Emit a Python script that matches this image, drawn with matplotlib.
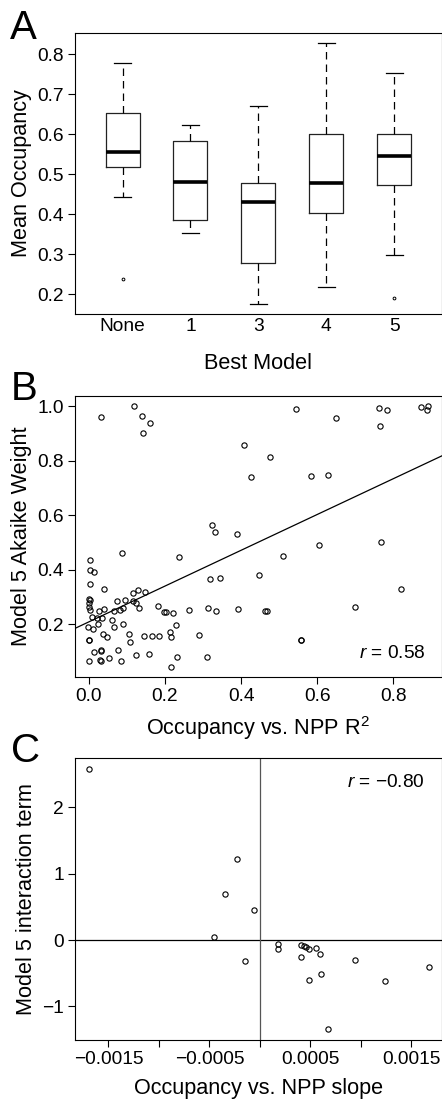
import matplotlib
matplotlib.use("Agg")

import numpy as np
import matplotlib.pyplot as plt

# --- Panel A: boxplot summary of mean occupancy per best model ---
box_labels = ["None", "1", "3", "4", "5"]
box_whislo = [0.443, 0.354, 0.177, 0.218, 0.2975]
box_q1 = [0.519, 0.386, 0.279, 0.4025, 0.4725]
box_med = [0.556, 0.482, 0.430, 0.478, 0.545]
box_q3 = [0.6525, 0.583, 0.478, 0.600, 0.600]
box_whishi = [0.779, 0.6225, 0.670, 0.828, 0.752]
box_fliers = [[0.238], [], [], [], [0.191]]

# --- Panel B: Akaike weight vs R^2 ---
r2_x = [0.031, 0.120, 0.140, 0.161, 0.142, 0.544, 0.650, 0.763, 0.783, 0.764,
        0.872, 0.892, 0.888, 0.409, 0.477, 0.427, 0.585, 0.629, 0.325, 0.332,
        0.390, 0.606, 0.768, 0.509, 0.238, 0.088, 0.446, 0.319, 0.345, 0.821,
        0.699, 0.392, 0.313, 0.333, 0.264, 0.463, 0.468, 0.290, 0.311, 0.557,
        0.557,
        0.003, 0.004, 0.015, 0.003, 0.041, 0.001, 0.004, 0.002, 0.002, 0.004,
        0.027, 0.039, 0.073, 0.096, 0.116, 0.130, 0.149, 0.116, 0.124, 0.133,
        0.067, 0.081, 0.089, 0.182, 0.199, 0.203, 0.221, 0.009, 0.022, 0.035,
        0.024, 0.062, 0.091, -0.001, 0.010, 0.067, 0.229, 0.037, 0.048, 0.106,
        0.109, 0.144, 0.166, 0.185, 0.214, 0.215, 0.001, 0.002, 0.015, 0.031,
        0.033, 0.077, 0.030, 0.032, 0.052, 0.000, 0.084, 0.123, 0.158, 0.232,
        0.215]
akaike_w = [0.962, 1.000, 0.966, 0.940, 0.903, 0.990, 0.956, 0.993, 0.987, 0.929,
            0.998, 1.000, 0.987, 0.858, 0.814, 0.741, 0.743, 0.749, 0.566, 0.538,
            0.531, 0.491, 0.501, 0.450, 0.448, 0.463, 0.381, 0.366, 0.371, 0.331,
            0.262, 0.255, 0.261, 0.250, 0.251, 0.250, 0.250, 0.162, 0.080, 0.141,
            0.144,
            0.435, 0.398, 0.392, 0.347, 0.331, 0.292, 0.291, 0.277, 0.265, 0.253,
            0.250, 0.256, 0.286, 0.289, 0.315, 0.325, 0.320, 0.287, 0.277, 0.261,
            0.249, 0.251, 0.260, 0.267, 0.244, 0.244, 0.243, 0.226, 0.224, 0.224,
            0.201, 0.217, 0.200, 0.189, 0.183, 0.191, 0.199, 0.165, 0.153, 0.166,
            0.135, 0.156, 0.156, 0.156, 0.171, 0.154, 0.144, 0.143, 0.098, 0.103,
            0.105, 0.105, 0.069, 0.064, 0.078, 0.064, 0.064, 0.089, 0.092, 0.079,
            0.045]
fit_intercept = 0.209
fit_slope = 0.657
r_text_B = "0.58"

# --- Panel C: interaction term vs slope ---
slope_x = [-0.001695, -0.000231, -0.000344, -0.000056, -0.000456, -0.000145,
           0.000178, 0.000178, 0.000406, 0.000433, 0.000453, 0.000489,
           0.000558, 0.000591, 0.000410, 0.000945, 0.000605, 0.000489,
           0.001239, 0.001672, 0.000671]
interact = [2.583, 1.226, 0.688, 0.447, 0.045, -0.317,
            -0.065, -0.131, -0.070, -0.095, -0.106, -0.131,
            -0.126, -0.211, -0.256, -0.296, -0.518, -0.608,
            -0.618, -0.412, -1.342]
r_text_C = "\u22120.80"

plt.rcParams['font.family'] = ['Liberation Sans', 'DejaVu Sans']
plt.rcParams['mathtext.fontset'] = 'custom'
plt.rcParams['mathtext.rm'] = 'Liberation Sans'
plt.rcParams['mathtext.it'] = 'Liberation Sans:italic'
plt.rcParams['axes.linewidth'] = 0.8

TICK_FS = 13.8
LAB_FS = 15.6

fig = plt.figure(figsize=(4.42, 11), dpi=100)
L, W = 0.1697, 0.8296
axA = fig.add_axes([L, 0.7145, W, 0.2555])
axB = fig.add_axes([L, 0.3848, W, 0.2552])
axC = fig.add_axes([L, 0.0545, W, 0.2561])

# panel A
stats = []
for i in range(len(box_labels)):
    stats.append(dict(med=box_med[i], q1=box_q1[i], q3=box_q3[i],
                      whislo=box_whislo[i], whishi=box_whishi[i],
                      fliers=box_fliers[i], label=box_labels[i]))
axA.bxp(stats, positions=range(1, 6), widths=0.5, capwidths=0.25,
        boxprops=dict(color="#222222", lw=0.9),
        medianprops=dict(color="black", lw=2.6, solid_capstyle="butt"),
        whiskerprops=dict(color="black", lw=0.9, linestyle=(0, (6, 4))),
        capprops=dict(color="black", lw=0.9),
        flierprops=dict(marker="o", ms=2.0, mfc="none", mec="black", mew=0.7))
axA.set_xlim(0.3, 5.7)
axA.set_ylim(0.151, 0.853)
axA.set_yticks([0.2, 0.3, 0.4, 0.5, 0.6, 0.7, 0.8])
axA.set_yticklabels(["0.2", "0.3", "0.4", "0.5", "0.6", "0.7", "0.8"])
axA.tick_params(axis="x", length=0, pad=3, labelsize=TICK_FS)
axA.tick_params(axis="y", length=5, width=0.8, pad=3, labelsize=TICK_FS)
axA.set_ylabel("Mean Occupancy", fontsize=LAB_FS, labelpad=4)
axA.set_xlabel("Best Model", fontsize=LAB_FS, labelpad=13)

# panel B
axB.plot(r2_x, akaike_w, "o", ms=3.8, mfc="none", mec="black", mew=0.8)
axB.axline((0, fit_intercept), slope=fit_slope, color="black", lw=0.9)
axB.set_xlim(-0.036, 0.927)
axB.set_ylim(0.008, 1.038)
axB.set_xticks([0.0, 0.2, 0.4, 0.6, 0.8])
axB.set_xticklabels(["0.0", "0.2", "0.4", "0.6", "0.8"])
axB.set_yticks([0.2, 0.4, 0.6, 0.8, 1.0])
axB.set_yticklabels(["0.2", "0.4", "0.6", "0.8", "1.0"])
axB.tick_params(length=5, width=0.8, pad=3, labelsize=TICK_FS)
axB.set_ylabel("Model 5 Akaike Weight", fontsize=LAB_FS, labelpad=4)
axB.set_xlabel("Occupancy vs. NPP R$^2$", fontsize=LAB_FS, labelpad=7)
axB.text(0.955, 0.065, "$r$ = " + r_text_B, transform=axB.transAxes,
         ha="right", va="baseline", fontsize=TICK_FS)

# panel C
axC.axhline(0, color="black", lw=0.9)
axC.axvline(0, color="#555555", lw=0.9)
axC.plot(slope_x, interact, "o", ms=3.8, mfc="none", mec="black", mew=0.8)
axC.set_xlim(-0.00183, 0.0018)
axC.set_ylim(-1.508, 2.739)
xt = [-0.0015, -0.001, -0.0005, 0.0, 0.0005, 0.001, 0.0015]
axC.set_xticks(xt)
axC.set_xticklabels(["\u22120.0015", "", "\u22120.0005", "", "0.0005", "", "0.0015"])
axC.set_yticks([-1, 0, 1, 2])
axC.set_yticklabels(["\u22121", "0", "1", "2"])
axC.tick_params(length=5, width=0.8, pad=3, labelsize=TICK_FS)
axC.set_ylabel("Model 5 interaction term", fontsize=LAB_FS, labelpad=4)
axC.set_xlabel("Occupancy vs. NPP slope", fontsize=LAB_FS, labelpad=7)
axC.text(0.955, 0.9, "$r$ = " + r_text_C, transform=axC.transAxes,
         ha="right", va="baseline", fontsize=TICK_FS)

# panel letters
fig.text(10 / 442, 1 - 39 / 1100, "A", fontsize=29, ha="left", va="baseline")
fig.text(11 / 442, 1 - 400 / 1100, "B", fontsize=29, ha="left", va="baseline")
fig.text(11 / 442, 1 - 762 / 1100, "C", fontsize=29, ha="left", va="baseline")

fig.savefig("out.png", dpi=100)
